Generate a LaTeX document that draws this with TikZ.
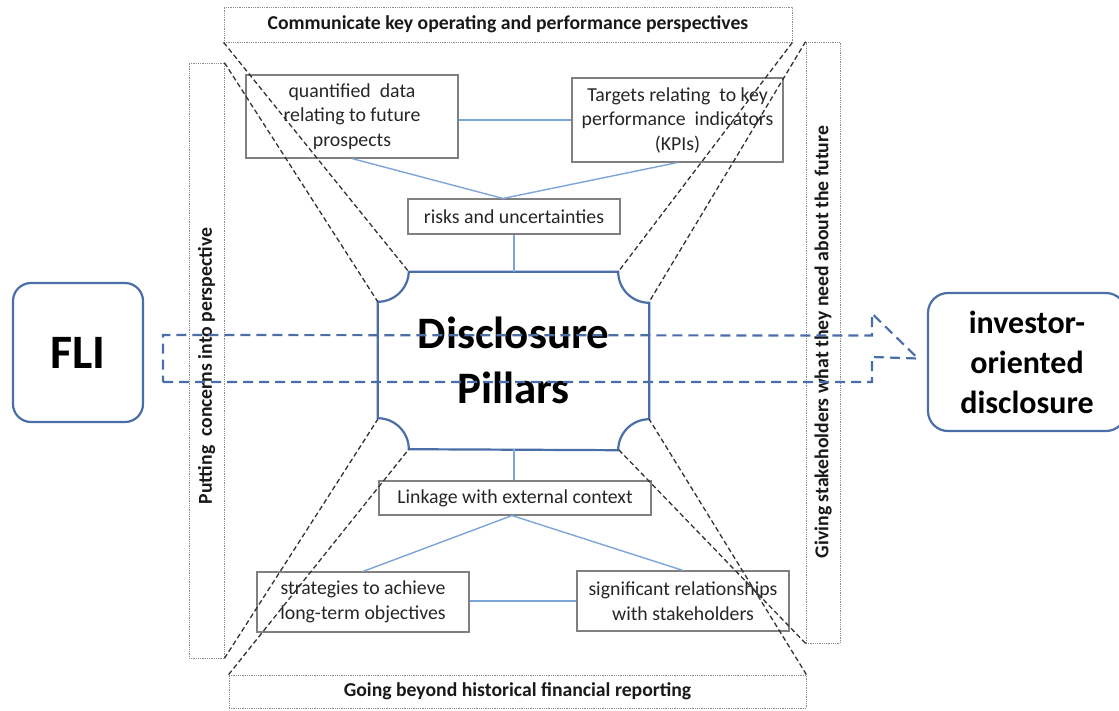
\documentclass[tikz,border=0pt]{standalone}
\usepackage{fontspec}
\setmainfont{Carlito}
\definecolor{dblue}{HTML}{4A6EA8}
\definecolor{lblue}{HTML}{7DA5D8}
\begin{document}
\begin{tikzpicture}[x=1pt,y=-1pt,
  dotbox/.style={draw=black!45, densely dotted, line width=0.8pt, inner sep=0pt},
  hd/.style={font=\fontsize{19.7}{23}\selectfont\bfseries, text=black!90},
  sbox/.style={draw=black!50, line width=1.1pt, inner sep=0pt, align=center,
    font=\fontsize{19.8}{24.5}\selectfont, text=black!85},
  conn/.style={draw=lblue, line width=1.4pt},
  dline/.style={draw=black!80, dash pattern=on 5pt off 3pt, line width=1.3pt},
  bbox/.style={draw=dblue, line width=2.2pt, rounded corners=18pt, inner sep=0pt,
    align=center, text=black},
  arrowdash/.style={draw=dblue, line width=2.2pt, dash pattern=on 10pt off 6pt}
]
\clip (0,0) rectangle (1119,710);
\useasboundingbox (0,0) rectangle (1119,710);

% dotted frame boxes
\node[dotbox, minimum width=568pt, minimum height=35pt] (topbox) at (508,24.5) {};
\node[hd] at (topbox.center) {Communicate key operating and performance perspectives};
\node[dotbox, minimum width=35pt, minimum height=595pt] (leftbox) at (206.5,360.5) {};
\node[hd, rotate=90] at (206.5,366) {Putting\ \ concerns into perspective};
\node[dotbox, minimum width=34pt, minimum height=601pt] (rightbox) at (823,342.5) {};
\node[hd, rotate=90] at (823,342) {Giving stakeholders what they need about the future};
\node[dotbox, minimum width=577pt, minimum height=33pt] (botbox) at (517.5,691.5) {};
\node[hd] at (botbox.center) {Going beyond historical financial reporting};

% small boxes
\node[sbox, minimum width=212pt, minimum height=83pt] (quant) at (352,116.5) {quantified\ \ data\\relating to future\\prospects};
\node[sbox, minimum width=211pt, minimum height=84pt] (targets) at (677.5,120) {Targets relating\ \ to key\\performance\ \ indicators\\(KPIs)};
\node[sbox, minimum width=212pt, minimum height=35pt] (risks) at (514,216.5) {risks and uncertainties};
\node[sbox, minimum width=272pt, minimum height=34pt] (linkage) at (515,498) {Linkage with external context};
\node[sbox, minimum width=212pt, minimum height=60pt] (strat) at (363,602) {strategies to achieve\\long-term objectives};
\node[sbox, minimum width=212pt, minimum height=60pt] (signif) at (683,601) {significant relationships\\with stakeholders};

% central pillar
\node[minimum width=271pt, minimum height=177pt, inner sep=0pt, align=center,
  font=\fontsize{45}{55}\selectfont\bfseries] (pillars) at (513.5,360.5) {Disclosure\\Pillars};
\draw[dblue, line width=2.2pt]
  ([xshift=31pt]pillars.north west) -- ([xshift=-31pt]pillars.north east)
  arc[start angle=180, end angle=270, radius=31pt]
  -- ([yshift=30pt]pillars.south east)
  arc[start angle=90, end angle=180, radius=31pt]
  -- ([xshift=31pt]pillars.south west)
  arc[start angle=0, end angle=90, radius=31pt]
  -- ([yshift=-30pt]pillars.north west)
  arc[start angle=270, end angle=360, radius=31pt] -- cycle;

% blue connectors
\draw[conn] (quant.east |- targets.west) -- (targets.west);
\draw[conn] (quant.south) -- ([xshift=-11pt]risks.north) -- (targets.south);
\draw[conn] (risks.south) -- (risks.south |- pillars.north);
\draw[conn] (risks.south |- pillars.south) -- (risks.south |- linkage.north);
\draw[conn] (strat.north) -- ([xshift=-3pt]linkage.south) -- (signif.north);
\draw[conn] (strat.east |- signif.west) -- (signif.west);

% dashed perspective lines
\draw[dline] (topbox.south west) -- ([xshift=31pt]pillars.north west);
\draw[dline] (leftbox.north east) -- ([yshift=-30pt]pillars.north west);
\draw[dline] (topbox.south east) -- ([xshift=-31pt]pillars.north east);
\draw[dline] (rightbox.north west) -- ([yshift=-30pt]pillars.north east);
\draw[dline] (leftbox.south east) -- ([yshift=30pt]pillars.south west);
\draw[dline] (botbox.north west) -- ([xshift=31pt]pillars.south west);
\draw[dline] (rightbox.south west) -- ([xshift=-31pt]pillars.south east);
\draw[dline] (botbox.north east) -- ([yshift=30pt]pillars.south east);

% FLI and investor boxes
\node[bbox, minimum width=130pt, minimum height=139pt, font=\fontsize{48}{52}\selectfont\bfseries] (fli) at (78,352.5) {FLI};
\node[bbox, minimum width=198pt, minimum height=138pt, rounded corners=20pt, font=\fontsize{32}{40}\selectfont\bfseries] (inv) at (1027,362) {investor-\\oriented\\disclosure};

% big dashed arrow
\coordinate (atail) at (163,358.5);
\coordinate (atip) at (918,358.5);
\draw[arrowdash] ([yshift=-23.5pt]atail) -- ++(709pt,0) -- ++(0,25pt) -- (atip)
  -- ([xshift=-46pt,yshift=45pt]atip) -- ++(0,-22pt) -- ([yshift=23.5pt]atail) -- cycle;
\end{tikzpicture}
\end{document}
